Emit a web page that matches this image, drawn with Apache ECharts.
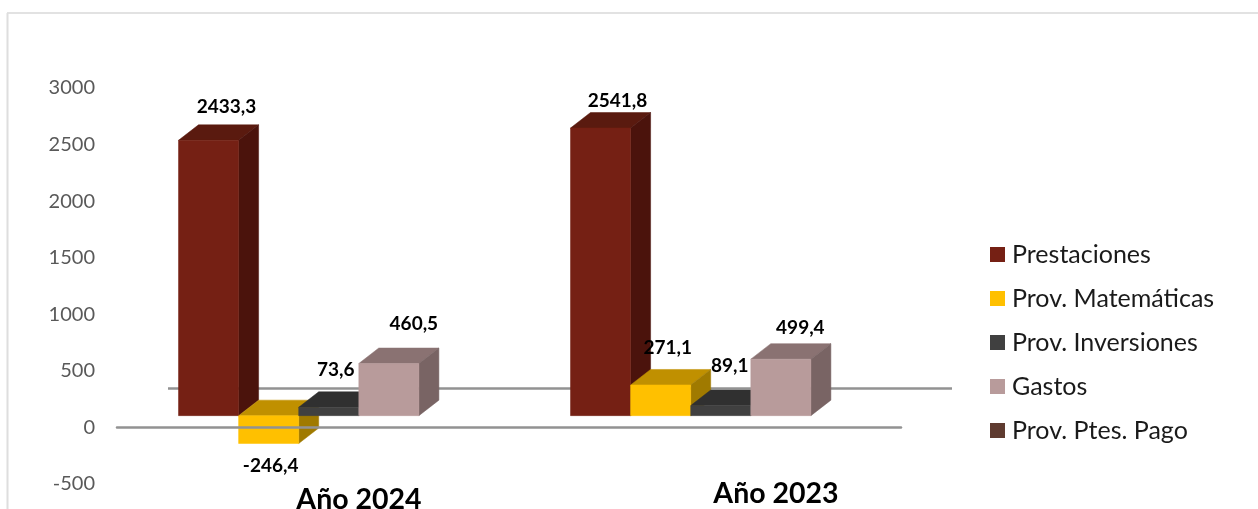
<!DOCTYPE html>
<html>
<head>
<meta charset="utf-8">
<script src="https://cdn.jsdelivr.net/npm/echarts@6/dist/echarts.min.js"></script>
<style>html,body{margin:0;padding:0;background:#fff}#c{width:1258px;height:509px}</style>
</head>
<body>
<div id="c"></div>
<script>
const categories = ['Año 2024', 'Año 2023'];
const seriesNames = ['Prestaciones', 'Prov. Matemáticas', 'Prov. Inversiones', 'Gastos', 'Prov. Ptes. Pago'];
const prestaciones = [2433.3, 2541.8];
const provMatematicas = [-246.4, 271.1];
const provInversiones = [73.6, 89.1];
const gastos = [460.5, 499.4];
const provPtesPago = [null, null];
const allValues = [prestaciones, provMatematicas, provInversiones, gastos, provPtesPago];

const yTickMin = -500, yTickMax = 3000, yTickStep = 500;

// styling (front, top, side)
const shades = [
  ['#752014', '#5A1A0F', '#4B130C'],
  ['#FFC000', '#C09000', '#A07A00'],
  ['#404040', '#303030', '#303030'],
  ['#B89B9B', '#8A7272', '#796464'],
  ['#5F3B30', '#472C24', '#3B241E']
];
// hand-placed label nudges from the top of each front face, [series][category]
const labelNudge = [
  [[18, -33], [17, -27]],
  [[2, 22], [7, -37]],
  [[7, -37], [9, -40]],
  [[25, -40], [19.5, -31]],
  [[0, 0], [0, 0]]
];
const depthX = 20, depthY = 15.5;     // oblique depth of each box
const floorLift = 11.8;               // front floor sits above the value axis zero
const barW = 60.1, groupStart = -134.5;
const yearPos = [[359, 500], [776, 494]];
const FONT = 'Lato';

function makeBox(i) {
  return function (params, api) {
    const c = api.value(0), v = api.value(1);
    if (v == null || isNaN(v)) return null;
    const cx = api.coord([c, 0])[0];
    const zero = api.coord([c, 0])[1] - floorLift;
    const vy = api.coord([c, v])[1] - floorLift;
    const x0 = cx + groupStart + i * barW, x1 = x0 + barW;
    const yTop = Math.min(zero, vy), yBot = Math.max(zero, vy);
    const s = shades[i], n = labelNudge[i][c];
    const poly = (pts, color, z2) => ({
      type: 'polygon', shape: { points: pts }, z2,
      style: { fill: color, stroke: color, lineWidth: 0.5 }
    });
    return {
      type: 'group',
      children: [
        poly([[x0, yTop], [x0 + depthX, yTop - depthY], [x1 + depthX, yTop - depthY], [x1, yTop]], s[1], 1),
        poly([[x1, yTop], [x1 + depthX, yTop - depthY], [x1 + depthX, yBot - depthY], [x1, yBot]], s[2], 1),
        poly([[x0, yTop], [x1, yTop], [x1, yBot], [x0, yBot]], s[0], 2),
        {
          type: 'text', z2: 100,
          style: {
            x: (x0 + x1) / 2 + n[0], y: vy + n[1],
            text: v.toFixed(1).replace('.', ','),
            fill: '#000', font: 'bold 19px ' + FONT, textAlign: 'center', textVerticalAlign: 'middle'
          }
        }
      ]
    };
  };
}

const boxSeries = seriesNames.map((name, i) => ({
  name, type: 'custom', z: 2,
  itemStyle: { color: shades[i][0] },
  encode: { x: 0, y: 1 },
  data: categories.map((_, c) => [c, allValues[i][c]]),
  renderItem: makeBox(i),
  silent: true
}));

const decorSeries = {
  name: 'decor', type: 'custom', z: 1, silent: true,
  encode: { x: 0, y: 1 },
  data: categories.map((_, c) => [c, 0]),
  renderItem: function (params, api) {
    const c = api.value(0);
    const children = [{
      type: 'text', z2: 100,
      style: {
        x: yearPos[c][0], y: yearPos[c][1], text: categories[c], fill: '#000',
        font: 'bold 28.5px ' + FONT, textAlign: 'center', textVerticalAlign: 'middle'
      }
    }];
    if (c === 0) {
      const p = api.coord([0, 0]), w = api.size([1, 0])[0];
      const gx = p[0] - w / 2 + 51, gy = p[1] - 39;
      children.push({
        type: 'line', shape: { x1: gx, y1: gy, x2: gx + 2 * w, y2: gy },
        style: { stroke: '#929292', lineWidth: 2.5 }
      });
    }
    return { type: 'group', children };
  }
};

const chart = echarts.init(document.getElementById('c'), null, { renderer: 'canvas' });
chart.setOption({
  animation: false,
  backgroundColor: '#fff',
  grid: { left: 117, width: 784, top: 88, bottom: 25 },
  legend: {
    orient: 'vertical', left: 985, top: 237, itemWidth: 15, itemHeight: 15, itemGap: 19,
    icon: 'rect', data: seriesNames, selectedMode: false,
    textStyle: { fontFamily: FONT, fontSize: 25, lineHeight: 24, height: 24, color: '#1a1a1a', padding: [0, 0, 0, 2] }
  },
  xAxis: {
    type: 'category', data: categories, z: 5,
    axisLine: { onZero: true, lineStyle: { color: '#929292', width: 2.5 } },
    axisTick: { show: false }, axisLabel: { show: false }, splitLine: { show: false }
  },
  yAxis: {
    type: 'value', min: yTickMin, max: yTickMax, interval: yTickStep,
    axisLine: { show: false }, axisTick: { show: false }, splitLine: { show: false },
    axisLabel: { margin: 22, fontFamily: FONT, fontSize: 20, color: '#595959', padding: [4, 0, 0, 0],
      formatter: v => String(v) }
  },
  graphic: [
    { type: 'line', shape: { x1: 7, y1: 13, x2: 1258, y2: 13 }, style: { stroke: '#D9D9D9', lineWidth: 1.5 } },
    { type: 'line', shape: { x1: 7.5, y1: 13, x2: 7.5, y2: 509 }, style: { stroke: '#DEDEDE', lineWidth: 2 } }
  ],
  series: [decorSeries].concat(boxSeries)
});
</script>
</body>
</html>
